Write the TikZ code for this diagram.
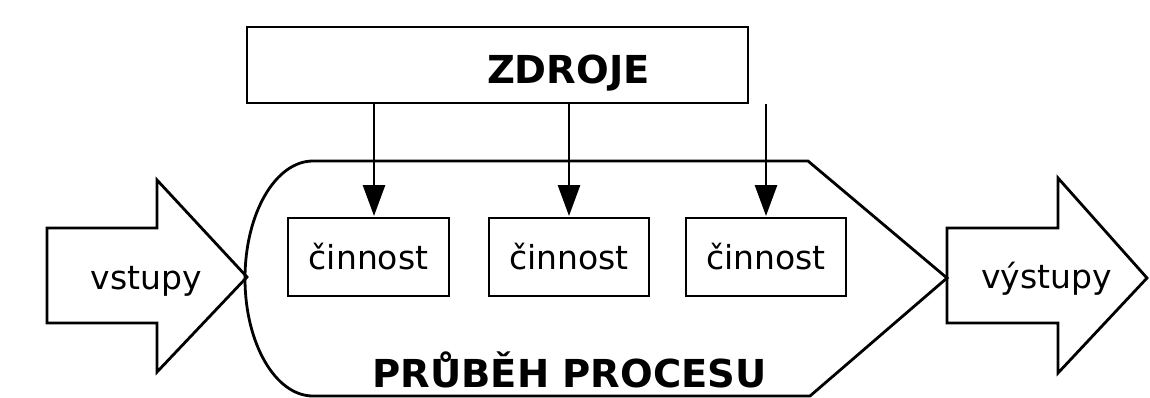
\documentclass[tikz,border=0pt]{standalone}
\usepackage{fontspec}
\setmainfont{DejaVu Sans}
\usetikzlibrary{arrows.meta}
\begin{document}
\begin{tikzpicture}[x=1pt,y=-1pt,
  line width=2.8pt, line join=miter,
  actbox/.style={draw, line width=2.8pt, minimum width=160pt, minimum height=78pt, inner sep=0pt,
    font=\fontsize{33}{40}\selectfont},
  lbl/.style={font=\fontsize{33}{40}\selectfont, anchor=base, inner sep=0pt},
  hd/.style={font=\fontsize{38.5}{46}\selectfont\bfseries, anchor=base, inner sep=0pt},
  feed/.style={-{Triangle[width=22pt,length=31pt]}, line width=2.8pt}]
\useasboundingbox (0,0) rectangle (1150,397);
% resources box
\node[draw, line width=2.8pt, minimum width=501pt, minimum height=76pt, inner sep=0pt] (zdroje) at (497.5,65) {};
\node[hd] (zdrojetxt) at (568.5,83.5) {ZDROJE};
% process shape
\draw (313,161) -- (808,161) -- (947,278) -- (810,396) -- (313,396)
  arc[start angle=90, end angle=270, x radius=68, y radius=117.5] -- cycle;
\node[hd] (proces) at (569.5,387) {PRŮBĚH PROCESU};
% input arrow
\draw (47,228) -- (157,228) -- (157,180) -- (247,277) -- (157,372) -- (157,323) -- (47,323) -- cycle;
\node[lbl] (vstupy) at (146,289) {vstupy};
% output arrow
\draw (947,228) -- (1058,228) -- (1058,178) -- (1147,278) -- (1058,373) -- (1058,323) -- (947,323) -- cycle;
\node[lbl] (vystupy) at (1046.5,288) {výstupy};
% activities
\node[actbox, minimum width=161pt] (a1) at (368.5,257) {činnost};
\node[actbox] (a2) at (569,257) {činnost};
\node[actbox] (a3) at (766,257) {činnost};
\coordinate (f1) at (374,216);
\coordinate (f2) at (569,216);
\coordinate (f3) at (766,216);
\draw[feed] (zdroje.south -| f1) -- (f1);
\draw[feed] (zdroje.south -| f2) -- (f2);
\draw[feed] (zdroje.south -| f3) -- (f3);
\end{tikzpicture}
\end{document}
